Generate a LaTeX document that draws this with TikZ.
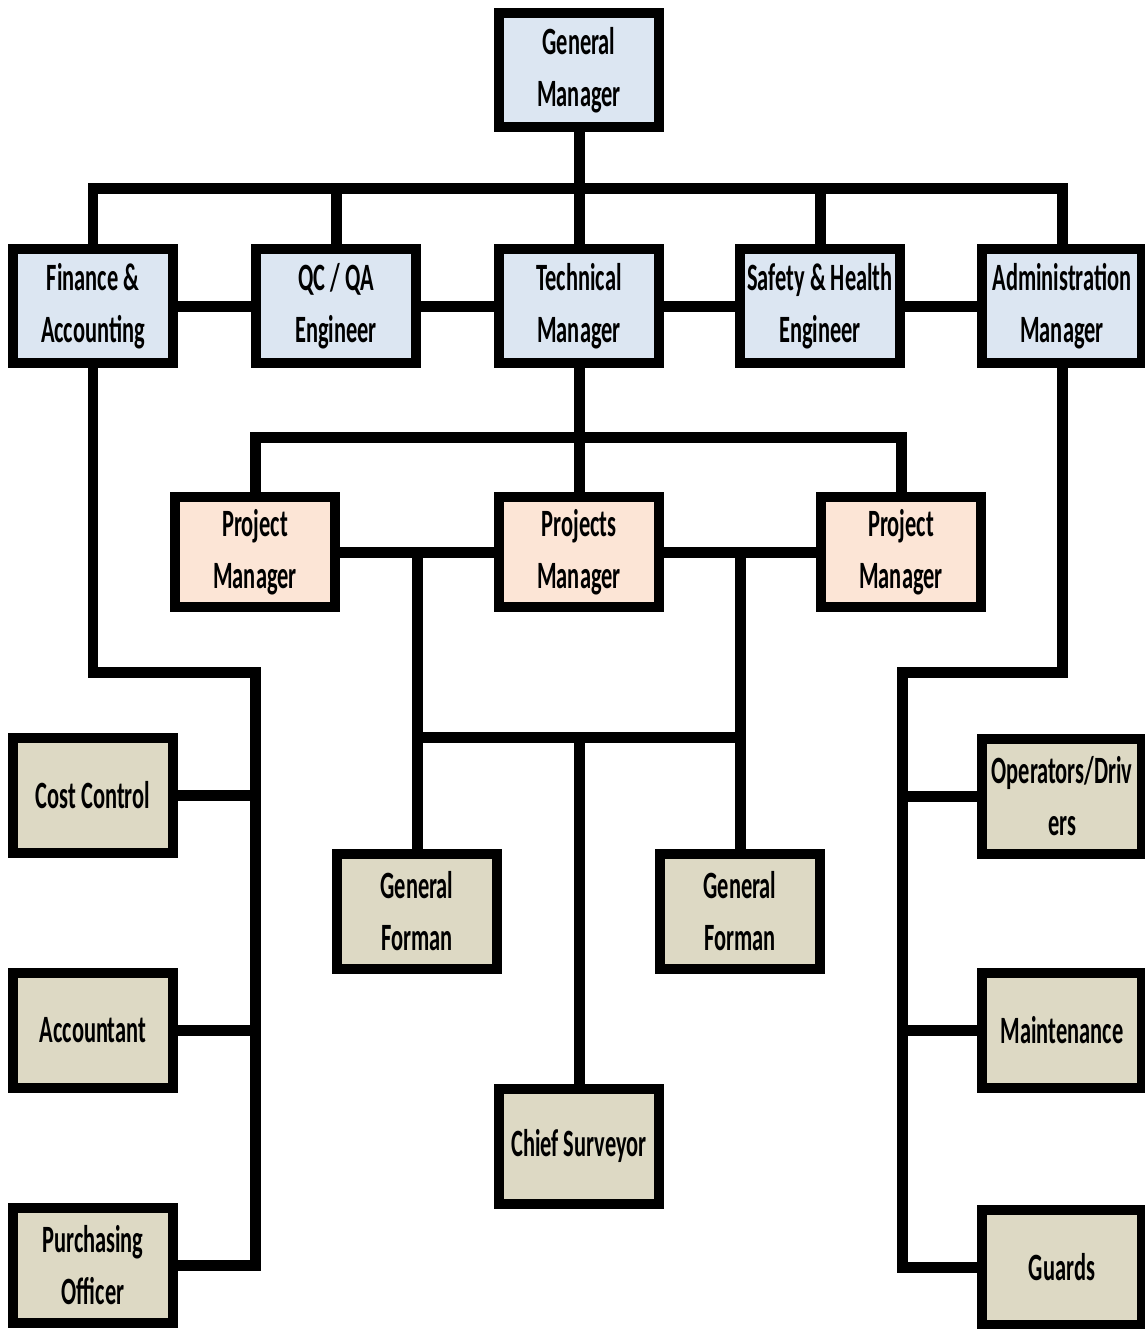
\documentclass[tikz,border=0pt]{standalone}
\usepackage{fontspec}
\setmainfont{Carlito}[FakeStretch=0.58]
\usepackage{tikz}
\usetikzlibrary{positioning}
\definecolor{mgrblue}{RGB}{220,230,242}
\definecolor{pmpeach}{RGB}{252,229,214}
\definecolor{stafftan}{RGB}{221,217,196}
\newcommand{\orgfont}{\fontsize{22}{29.6}\selectfont\bfseries}
\tikzset{
  every node/.style={
    align=center,
    font=\orgfont,
  },
  box/.style={draw, line width=0.2cm, minimum width=3.2cm, minimum height=2.3cm, inner sep=0pt},
  mgrbox/.style={box, fill=mgrblue},
  pmbox/.style={box, fill=pmpeach, minimum height=2.2cm},
  staffbox/.style={box, fill=stafftan},
  link/.style={line width=0.22cm},
}

\begin{document}
\begin{tikzpicture}[x=0.02cm, y=-0.02cm]
    \useasboundingbox (0,0) rectangle (1145,1329);
    \node[mgrbox] (gm) at (579,70) {General\\Manager};
    \node[mgrbox] (fin) at (93,306) {Finance \&\\Accounting};
    \node[mgrbox] (qc) at (336,306) {QC / QA\\Engineer};
    \node[mgrbox] (tech) at (579,306) {Technical\\Manager};
    \node[mgrbox] (safety) at (820,306) {Safety \& Health\\Engineer};
    \node[mgrbox] (admin) at (1062,306) {Administration\\Manager};
    \node[pmbox] (pml) at (255,552) {Project\\Manager};
    \node[pmbox] (pms) at (579,552) {Projects\\Manager};
    \node[pmbox] (pmr) at (901,552) {Project\\Manager};
    \node[staffbox] (gfl) at (417,911) {General\\Forman};
    \node[staffbox] (gfr) at (740,911) {General\\Forman};
    \node[staffbox] (chief) at (579,1146) {Chief Surveyor};
    \node[staffbox] (cost) at (93,795) {Cost Control};
    \node[staffbox] (acct) at (93,1030) {Accountant};
    \node[staffbox] (purch) at (93,1265) {Purchasing\\Officer};
    \node[staffbox] (oper) at (1062,796) {Operators/Driv\\ers};
    \node[staffbox] (maint) at (1062,1030) {Maintenance};
    \node[staffbox] (guards) at (1062,1267) {Guards};
    \coordinate (topbus) at (579,188);
    \coordinate (midbus) at (579,437);
    \coordinate (lowbus) at (579,737);
    \coordinate (lj) at (417,552);
    \coordinate (rj) at (740,552);
    \coordinate (lspine) at (255,672);
    \coordinate (rspine) at (902,672);
    \draw[link] (gm) -- (topbus);
    \draw[link] (fin.north) |- (topbus) -| (admin.north);
    \draw[link] (qc) -- (qc |- topbus);
    \draw[link] (tech) -- (topbus);
    \draw[link] (safety) -- (safety |- topbus);
    \draw[link] (fin) -- (qc);
    \draw[link] (qc) -- (tech);
    \draw[link] (tech) -- (safety);
    \draw[link] (safety) -- (admin);
    \draw[link] (tech) -- (pms);
    \draw[link] (pml.north) |- (midbus) -| (pmr.north);
    \draw[link] (pml) -- (pms);
    \draw[link] (pms) -- (pmr);
    \draw[link] (lj) -- (gfl);
    \draw[link] (rj) -- (gfr);
    \draw[link] (gfl |- lowbus) -- (gfr |- lowbus);
    \draw[link] (lowbus) -- (chief);
    \draw[link] (fin.south) |- (lspine) |- (purch.east);
    \draw[link] (cost) -- (cost -| lspine);
    \draw[link] (acct) -- (acct -| lspine);
    \draw[link] (admin.south) |- (rspine) |- (guards.west);
    \draw[link] (oper) -- (oper -| rspine);
    \draw[link] (maint) -- (maint -| rspine);
\end{tikzpicture}
\end{document}
